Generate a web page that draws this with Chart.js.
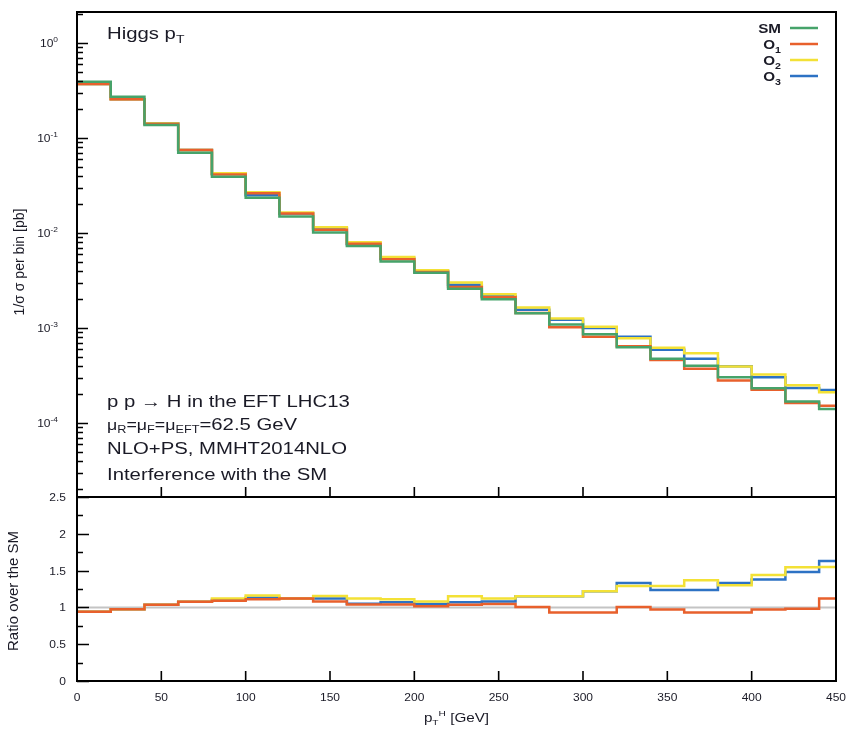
<!DOCTYPE html>
<html>
<head>
<meta charset="utf-8">
<script src="https://cdn.jsdelivr.net/npm/chart.js@4.4.1/dist/chart.umd.min.js"></script>
<style>
  body { margin: 0; background: #fff; }
  #wrap { position: relative; width: 850px; height: 730px; }
  canvas { position: absolute; left: 0; }
  #topChart { top: 0; }
  #ratioChart { top: 485px; }
</style>
</head>
<body>
<div id="wrap">
  <canvas id="topChart" width="850" height="505"></canvas>
  <canvas id="ratioChart" width="850" height="245"></canvas>
</div>
<script>
// 20 GeV bins, lower edges (last bin runs past the 450 edge)
const binEdges = [0, 20, 40, 60, 80, 100, 120, 140, 160, 180, 200, 220,
                  240, 260, 280, 300, 320, 340, 360, 380, 400, 420, 440];
const binEnd = 460;

// normalised cross section per bin
const smVals = [0.39, 0.272, 0.137, 0.070, 0.039, 0.0235, 0.0149, 0.0101, 0.0073, 0.0050, 0.00382, 0.00259,
                0.0020, 0.00143, 0.00109, 0.000857, 0.000627, 0.000475, 0.000401, 0.000303, 0.000232, 0.000168, 0.00014];
const o1Vals = [0.37, 0.255, 0.140, 0.0748, 0.0413, 0.0262, 0.0160, 0.0108, 0.0077, 0.0053, 0.00388, 0.00270,
                0.00211, 0.00144, 0.00102, 0.00081, 0.00064, 0.00046, 0.000371, 0.00028, 0.000224, 0.000162, 0.000152];
const o2Vals = [0.37, 0.255, 0.142, 0.0748, 0.0425, 0.0268, 0.0164, 0.0115, 0.0080, 0.0056, 0.00404, 0.00300,
                0.00226, 0.00164, 0.00126, 0.00103, 0.00078, 0.00062, 0.00054, 0.000392, 0.000323, 0.000249, 0.00021];
const o3Vals = [0.37, 0.255, 0.143, 0.0748, 0.0420, 0.0250, 0.0160, 0.0112, 0.0076, 0.00535, 0.00398, 0.00285,
                0.00215, 0.00155, 0.00122, 0.00100, 0.00081, 0.00059, 0.000475, 0.000395, 0.000303, 0.000233, 0.000222];

// ratio over the SM
const smRatio = [1, 1, 1, 1, 1, 1, 1, 1, 1, 1, 1, 1, 1, 1, 1, 1, 1, 1, 1, 1, 1, 1, 1];
const o1Ratio = [0.94, 0.974, 1.037, 1.077, 1.09, 1.11, 1.12, 1.08, 1.04, 1.04, 1.015, 1.037,
                 1.046, 1.005, 0.93, 0.93, 1.005, 0.97, 0.93, 0.93, 0.97, 0.98, 1.12];
const o2Ratio = [0.94, 0.974, 1.037, 1.077, 1.12, 1.16, 1.12, 1.155, 1.12, 1.11, 1.08, 1.15,
                 1.12, 1.15, 1.15, 1.22, 1.29, 1.29, 1.37, 1.30, 1.44, 1.545, 1.55];
const o3Ratio = [0.94, 0.974, 1.037, 1.077, 1.10, 1.13, 1.12, 1.12, 1.05, 1.07, 1.046, 1.07,
                 1.08, 1.15, 1.15, 1.22, 1.33, 1.236, 1.236, 1.33, 1.38, 1.48, 1.63];

const seriesNames = ["SM", "O1", "O2", "O3"];
const xTicks = [0, 50, 100, 150, 200, 250, 300, 350, 400, 450];
const logTicks = [0, -1, -2, -3, -4];
const ratioTicks = [0, 0.5, 1, 1.5, 2, 2.5];
const ratioLabels = ["0", "0.5", "1", "1.5", "2", "2.5"];

const colors = { SM: "#46a36a", O1: "#e8602c", O2: "#f3e136", O3: "#2d72c4" };
const textColor = "#1a1a26";
const FONT = '"Liberation Sans", Arial, sans-serif';
const SX = 1.27; // the original is a bit wider than tall

function steps(vals) {
  const pts = binEdges.map((x, i) => ({ x: x, y: vals[i] }));
  pts.push({ x: binEnd, y: vals[vals.length - 1] });
  return pts;
}

function line(label, vals, color, width) {
  return {
    label: label, data: steps(vals), borderColor: color, borderWidth: width || 2.5,
    stepped: true, pointRadius: 0, fill: false
  };
}

function fontOf(p) { return (p[3] ? "bold " : "") + p[1] + "px " + FONT; }

// parts: [text, size, dy, bold]
function drawRich(ctx, x, y, parts, sx, align) {
  ctx.save();
  ctx.fillStyle = textColor;
  ctx.textAlign = "left";
  ctx.textBaseline = "alphabetic";
  let w = 0;
  parts.forEach(p => { ctx.font = fontOf(p); w += ctx.measureText(p[0]).width; });
  ctx.translate(x, y);
  ctx.scale(sx, 1);
  let cx = align === "right" ? -w : align === "center" ? -w / 2 : 0;
  parts.forEach(p => {
    ctx.font = fontOf(p);
    ctx.fillText(p[0], cx, p[2] || 0);
    cx += ctx.measureText(p[0]).width;
  });
  ctx.restore();
}

function nameParts(name, size) {
  if (/\d$/.test(name)) return [[name.slice(0, -1), size, 0, true], [name.slice(-1), size * 0.7, 4, true]];
  return [[name, size, 0, true]];
}

function vlabel(ctx, cx, cy, text, size) {
  ctx.save();
  ctx.translate(cx, cy);
  ctx.rotate(-Math.PI / 2);
  ctx.fillStyle = textColor;
  ctx.font = size + "px " + FONT;
  ctx.textAlign = "center";
  ctx.textBaseline = "middle";
  ctx.fillText(text, 0, 0);
  ctx.restore();
}

const topDeco = {
  id: "topDeco",
  afterDraw(chart) {
    const { ctx, chartArea: a, scales: { x, y } } = chart;
    ctx.save();
    ctx.strokeStyle = "#000";
    ctx.lineWidth = 2;
    ctx.strokeRect(a.left, a.top, a.right - a.left, a.bottom - a.top);
    ctx.lineWidth = 1.6;
    ctx.beginPath();
    for (let e = -5; e <= 0; e++) {
      for (let k = 1; k <= 9; k++) {
        const v = k * Math.pow(10, e);
        if (v < y.min || v > y.max) continue;
        const py = Math.round(y.getPixelForValue(v)) + 0.5;
        ctx.moveTo(a.left, py);
        ctx.lineTo(a.left + (k === 1 ? 11 : 6), py);
      }
    }
    xTicks.forEach(v => {
      const px = x.getPixelForValue(v);
      ctx.moveTo(px, a.bottom);
      ctx.lineTo(px, a.bottom - 10);
    });
    ctx.stroke();

    logTicks.forEach(e => {
      const py = y.getPixelForValue(Math.pow(10, e));
      drawRich(ctx, a.left - 19, py + 4, [["10", 10, 0], [String(e), 7, -5]], 1.2, "right");
    });

    vlabel(ctx, 20, 262, "1/\u03c3 \u03c3 per bin [pb]", 14);

    drawRich(ctx, 107, 39, [["Higgs p", 16, 0], ["T", 11, 4]], SX, "left");
    drawRich(ctx, 107, 407, [["p p \u2192 H in the EFT LHC13", 16, 0]], SX, "left");
    drawRich(ctx, 107, 430, [["\u03bc", 14, 0], ["R", 10, 3], ["=\u03bc", 14, 0], ["F", 10, 3],
                             ["=\u03bc", 14, 0], ["EFT", 10, 3], ["=62.5 GeV", 16, 0]], SX, "left");
    drawRich(ctx, 107, 454, [["NLO+PS, MMHT2014NLO", 16, 0]], SX, "left");
    drawRich(ctx, 107, 480, [["Interference with the SM", 16, 0]], SX, "left");

    // key
    chart.data.datasets.forEach((ds, i) => {
      const cy = 28 + 16 * i;
      ctx.strokeStyle = ds.borderColor;
      ctx.lineWidth = 2.5;
      ctx.beginPath();
      ctx.moveTo(790, cy);
      ctx.lineTo(818, cy);
      ctx.stroke();
      drawRich(ctx, 781, cy + 4.5, nameParts(ds.label, 12), SX, "right");
    });
    ctx.restore();
  }
};

const ratioDeco = {
  id: "ratioDeco",
  afterDraw(chart) {
    const { ctx, chartArea: a, scales: { x, y } } = chart;
    ctx.save();
    ctx.strokeStyle = "#000";
    ctx.lineWidth = 2;
    ctx.strokeRect(a.left, a.top, a.right - a.left, a.bottom - a.top);
    ctx.lineWidth = 1.6;
    ctx.beginPath();
    for (let v = 0; v <= 2.5; v += 0.25) {
      const py = Math.round(y.getPixelForValue(v)) + 0.5;
      const major = Math.abs(v * 2 - Math.round(v * 2)) < 1e-6;
      ctx.moveTo(a.left, py);
      ctx.lineTo(a.left + (major ? 12 : 6), py);
    }
    xTicks.forEach(v => {
      const px = x.getPixelForValue(v);
      ctx.moveTo(px, a.bottom);
      ctx.lineTo(px, a.bottom - 10);
    });
    ctx.stroke();

    ratioTicks.forEach((v, i) => {
      drawRich(ctx, a.left - 11, y.getPixelForValue(v) + 4, [[ratioLabels[i], 10, 0]], 1.2, "right");
    });
    xTicks.forEach(v => {
      drawRich(ctx, x.getPixelForValue(v), a.bottom + 20, [[String(v), 10, 0]], 1.2, "center");
    });
    drawRich(ctx, (a.left + a.right) / 2, a.bottom + 41,
             [["p", 12, 0], ["T", 8, 3], ["H", 8, -6], [" [GeV]", 12, 0]], SX, "center");
    vlabel(ctx, 14, (a.top + a.bottom) / 2 + 2, "Ratio over the SM", 15);
    ctx.restore();
  }
};

Chart.defaults.font.family = FONT;

new Chart(document.getElementById("topChart"), {
  type: "line",
  data: {
    datasets: [
      line(seriesNames[0], smVals, colors.SM),
      line(seriesNames[1], o1Vals, colors.O1),
      line(seriesNames[2], o2Vals, colors.O2),
      line(seriesNames[3], o3Vals, colors.O3)
    ]
  },
  options: {
    responsive: false,
    animation: false,
    events: [],
    layout: { padding: { left: 77, top: 12, right: 14, bottom: 8 } },
    plugins: { legend: { display: false }, tooltip: { enabled: false } },
    scales: {
      x: { type: "linear", min: 0, max: 450, display: false },
      y: { type: "logarithmic", min: 1.66e-5, max: 2.12, display: false }
    }
  },
  plugins: [topDeco]
});

new Chart(document.getElementById("ratioChart"), {
  type: "line",
  data: {
    datasets: [
      line(seriesNames[1], o1Ratio, colors.O1),
      line(seriesNames[2], o2Ratio, colors.O2),
      line(seriesNames[3], o3Ratio, colors.O3),
      line(seriesNames[0], smRatio, "#c4c4c4", 2)
    ]
  },
  options: {
    responsive: false,
    animation: false,
    events: [],
    layout: { padding: { left: 77, top: 12, right: 14, bottom: 49 } },
    plugins: { legend: { display: false }, tooltip: { enabled: false } },
    scales: {
      x: { type: "linear", min: 0, max: 450, display: false },
      y: { type: "linear", min: 0, max: 2.5, display: false }
    }
  },
  plugins: [ratioDeco]
});
</script>
</body>
</html>
